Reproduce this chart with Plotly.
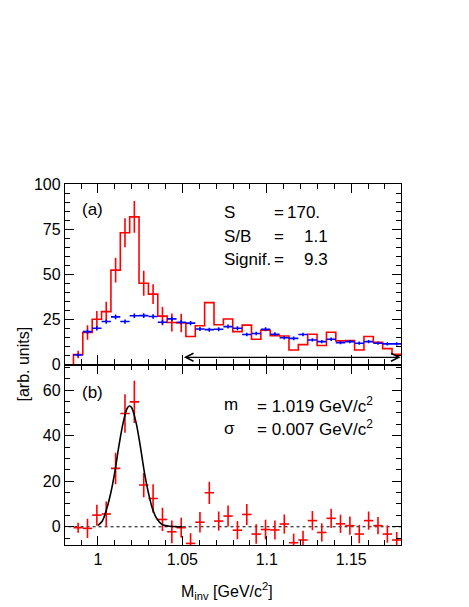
import plotly.graph_objects as go
from plotly.subplots import make_subplots

# binning of the invariant-mass histograms (GeV/c^2)
BIN_LO = 0.9855
BIN_W = 0.00555
N_BINS = 35

# (a) same-event spectrum (red histogram) and mixed-event background (blue)
same_event = [5.5, 17.7, 25.1, 29.3, 52.3, 73.0, 81.8, 45.0, 39.0, 26.8,
              23.3, 23.0, 15.5, 21.5, 34.3, 22.0, 25.2, 18.2, 21.8, 14.0,
              19.0, 16.0, 15.8, 8.0, 11.0, 16.8, 10.5, 17.9, 13.1, 13.3,
              8.0, 15.5, 12.3, 8.8, 5.7]
same_event_err = [2.1, 4.0, 4.5, 5.5, 6.9, 8.0, 8.8, 6.9, 5.5, 5.0, 5.0, 5.1]
mixed_event = [5.3, 18.2, 20.1, 23.8, 26.4, 23.8, 27.0, 27.1, 26.6, 23.4,
               25.3, 23.4, 22.9, 19.7, 19.3, 19.5, 21.0, 20.1, 16.6, 17.2,
               19.5, 16.8, 14.8, 14.5, 16.6, 13.6, 12.7, 14.0, 12.1, 12.7,
               11.8, 12.7, 11.8, 11.4, 11.4]
mixed_event_err = [0.8, 1.1, 1.2, 1.2, 1.3, 1.2, 1.3, 1.3, 1.3, 1.2,
                   1.2, 1.2, 1.2, 1.1, 1.1, 1.1, 1.1, 1.1, 1.0, 1.0,
                   1.1, 1.0, 1.0, 1.0, 1.0, 0.9, 0.9, 1.0, 0.9, 0.9,
                   0.9, 0.9, 0.9, 0.9, 0.9]
norm_window = [1.05, 1.1793]
norm_arrow_level = 4

# (b) background-subtracted spectrum and Gaussian fit
subtracted = [-0.4, -0.7, 5.1, 5.6, 25.6, 49.7, 54.8, 18.3, 12.4, 3.2,
              -2.2, -0.4, -7.3, 2.0, 14.9, 2.5, 4.7, -1.5, 5.4, -3.2,
              -1.2, -1.4, 1.2, -7.0, -5.8, 2.7, -2.5, 3.7, 1.3, 0.5,
              -3.2, 2.7, 0.5, -3.2, -5.8]
subtracted_err = [2.2, 4.2, 4.6, 5.5, 6.9, 8.4, 9.3, 5.3, 6.3, 5.1,
                  5.0, 4.4, 4.5, 4.5, 4.9, 4.2, 4.6, 4.0, 4.6, 4.3,
                  4.3, 4.2, 4.2, 4.0, 4.0, 4.2, 4.0, 4.2, 4.0, 4.0,
                  4.0, 4.0, 3.8, 3.8, 3.5]
fit_mass = [1.0, 1.0025, 1.005, 1.0075, 1.01, 1.0125, 1.015, 1.0175, 1.0188,
            1.02, 1.0225, 1.025, 1.0275, 1.03, 1.0325, 1.035, 1.0375, 1.04,
            1.0425, 1.045, 1.0475, 1.05]
fit_yield = [0.6, 2.4, 7.4, 14.5, 24.0, 35.8, 45.8, 52.2, 53.0,
             52.2, 46.0, 35.8, 24.0, 14.6, 7.5, 3.4, 1.3, 0.5,
             0.2, 0.1, 0.0, 0.0]

x_tick_vals = [1.0, 1.05, 1.1, 1.15]
x_tick_text = ["1", "1.05", "1.1", "1.15"]

edges = [BIN_LO + i * BIN_W for i in range(N_BINS + 1)]
centers = [BIN_LO + (i + 0.5) * BIN_W for i in range(N_BINS)]
half_w = BIN_W / 2

FONT = "Liberation Sans, Arial, Helvetica, sans-serif"
RED = "#ff0000"
BLUE = "#0000ff"

fig = make_subplots(rows=2, cols=1, shared_xaxes=True, vertical_spacing=0)

# red step histogram
fig.add_trace(
    go.Scatter(
        x=[edges[0]] + edges,
        y=[0] + same_event + [same_event[-1]],
        mode="lines",
        line=dict(color=RED, width=1.6, shape="hv"),
        hoverinfo="skip",
    ),
    row=1, col=1,
)
fig.add_trace(
    go.Scatter(
        x=centers[:len(same_event_err)],
        y=same_event[:len(same_event_err)],
        mode="markers",
        marker=dict(size=1, color=RED),
        error_y=dict(type="data", array=same_event_err, color=RED, thickness=1.6, width=0),
    ),
    row=1, col=1,
)
fig.add_trace(
    go.Scatter(
        x=centers,
        y=mixed_event,
        mode="markers",
        marker=dict(size=1, color=BLUE),
        error_x=dict(type="constant", value=half_w, color=BLUE, thickness=1.6, width=0),
        error_y=dict(type="data", array=mixed_event_err, color=BLUE, thickness=1.6, width=0),
    ),
    row=1, col=1,
)

# bottom: subtracted points and fit
fig.add_trace(
    go.Scatter(
        x=[edges[0] - 0.01, edges[-1] + 0.01],
        y=[0, 0],
        mode="lines",
        line=dict(color="black", width=1, dash="dot"),
    ),
    row=2, col=1,
)
fig.add_trace(
    go.Scatter(
        x=centers,
        y=subtracted,
        mode="markers",
        marker=dict(size=1, color=RED),
        error_x=dict(type="constant", value=half_w, color=RED, thickness=1.6, width=0),
        error_y=dict(type="data", array=subtracted_err, color=RED, thickness=1.6, width=0),
    ),
    row=2, col=1,
)
fig.add_trace(
    go.Scatter(
        x=fit_mass,
        y=fit_yield,
        mode="lines",
        line=dict(color="black", width=1.6, shape="spline"),
    ),
    row=2, col=1,
)

axis_common = dict(
    showline=True, linecolor="black", linewidth=1.3, mirror="allticks",
    ticks="inside", tickcolor="black", tickwidth=1, showgrid=False, zeroline=False,
    automargin=False,
    tickfont=dict(family=FONT, size=16, color="black"),
)
x_common = dict(
    range=[0.9805, 1.1795], tickmode="array", tickvals=x_tick_vals, ticktext=x_tick_text,
    ticklen=9,
    minor=dict(tick0=1.0, dtick=0.01, ticklen=5, ticks="inside", tickcolor="black", tickwidth=1),
    **axis_common,
)
fig.update_xaxes(showticklabels=False, **x_common, row=1, col=1)
fig.update_xaxes(showticklabels=True, **x_common, row=2, col=1)
fig.update_yaxes(
    range=[0, 100], tick0=0, dtick=25, ticklen=9,
    minor=dict(dtick=5, ticklen=5, ticks="inside", tickcolor="black", tickwidth=1),
    **axis_common, row=1, col=1,
)
fig.update_yaxes(
    range=[-8, 71.2], tick0=0, dtick=20, ticklen=9,
    minor=dict(dtick=5, ticklen=5, ticks="inside", tickcolor="black", tickwidth=1),
    **axis_common, row=2, col=1,
)


def label(text, x, y, xanchor="left", size=17, xref="paper", yref="paper"):
    fig.add_annotation(
        text=text, x=x, y=y, xref=xref, yref=yref, xanchor=xanchor, yanchor="middle",
        showarrow=False, font=dict(family=FONT, size=size, color="black"),
    )


label("(a)", 0.046, 0.928)
label("S", 0.467, 0.920)
label("S/B", 0.467, 0.855)
label("Signif.", 0.467, 0.791)
for yy in (0.920, 0.855, 0.791):
    label("=", 0.617, yy)
label("170.", 0.656, 0.920)
label("1.1", 0.705, 0.855)
label("9.3", 0.705, 0.791)

label("(b)", 0.046, 0.422)
label("m", 0.467, 0.388)
label("σ", 0.467, 0.323)
label("= 1.019 GeV/c<sup>2</sup>", 0.565, 0.388)
label("= 0.007 GeV/c<sup>2</sup>", 0.565, 0.323)

label("M<sub>inv</sub> [GeV/c<sup>2</sup>]", 0.482, -0.127, xanchor="center", size=16)
fig.add_annotation(
    text="[arb. units]", x=-0.125, y=0.5, xref="paper", yref="paper", textangle=-90,
    showarrow=False, xanchor="center", yanchor="middle",
    font=dict(family=FONT, size=16, color="black"),
)

# normalisation window arrow
fig.add_annotation(
    x=norm_window[1], y=norm_arrow_level, ax=norm_window[0], ay=norm_arrow_level,
    xref="x", yref="y", axref="x", ayref="y", text="", showarrow=True,
    arrowhead=5, startarrowhead=5, arrowside="end+start", arrowsize=1.3,
    arrowwidth=1.2, arrowcolor="black",
)

# the page adds an 8 px body margin, so the figure is made 8 px smaller
fig.update_layout(
    width=461, height=599,
    margin=dict(l=57, r=68, t=176, b=62),
    paper_bgcolor="white", plot_bgcolor="white",
    showlegend=False,
    font=dict(family=FONT, color="black"),
)

fig.write_html("out.html")
